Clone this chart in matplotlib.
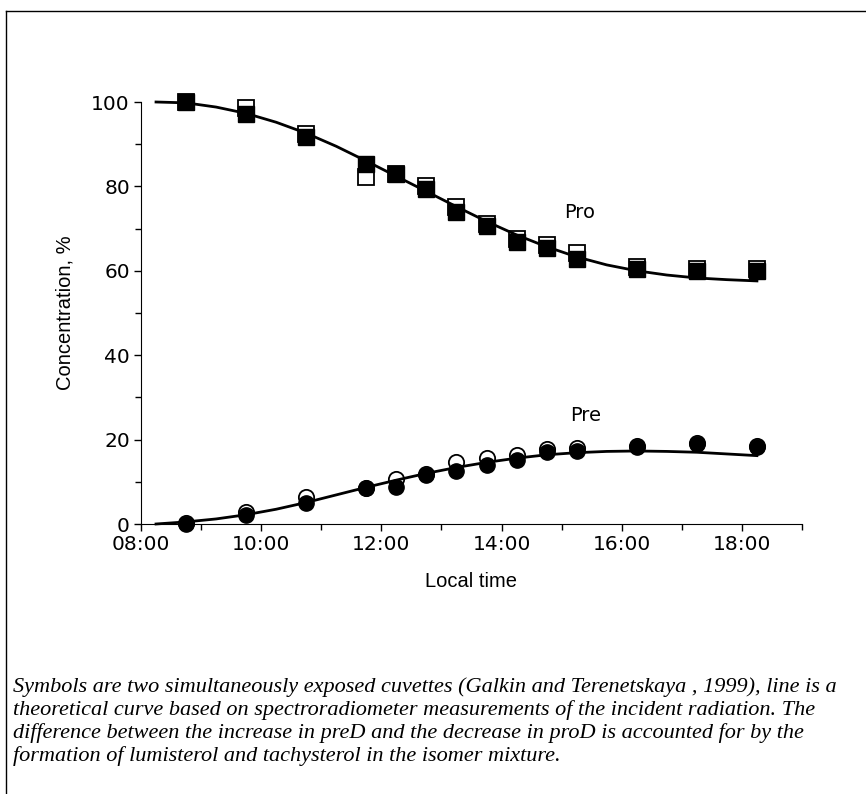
import numpy as np
import matplotlib
matplotlib.use('Agg')
import matplotlib.pyplot as plt
from matplotlib.lines import Line2D
from matplotlib.ticker import MultipleLocator, FuncFormatter

# measurement times (decimal hours)
times = [8.75, 9.75, 10.75, 11.75, 12.25, 12.75, 13.25, 13.75, 14.25, 14.75, 15.25, 16.25, 17.25, 18.25]

# provitamin D, two cuvettes
pro_open = [100.0, 98.6, 92.5, 82.2, 83.0, 80.0, 75.1, 71.0, 67.5, 66.2, 64.1, 61.0, 60.5, 60.5]
pro_filled = [100.0, 97.2, 91.7, 85.2, 82.9, 79.5, 73.9, 70.5, 66.8, 65.3, 62.9, 60.4, 60.0, 60.0]

# previtamin D, two cuvettes
pre_open = [0.2, 2.8, 6.4, 8.6, 10.7, 11.8, 14.7, 15.7, 16.3, 17.8, 18.0, 18.5, 19.3, 18.5]
pre_filled = [0.0, 2.1, 5.0, 8.5, 8.8, 11.6, 12.6, 14.0, 15.2, 17.1, 17.3, 18.3, 19.0, 18.3]

# theoretical curves, read every half hour
curve_t = [8.25, 8.75, 9.25, 9.75, 10.25, 10.75, 11.25, 11.75, 12.25, 12.75, 13.25,
           13.75, 14.25, 14.75, 15.25, 15.75, 16.25, 16.75, 17.25, 17.75, 18.25]
pro_curve = [100.0, 99.8, 98.8, 97.3, 95.2, 92.6, 89.5, 86.0, 82.4, 78.8, 75.2,
             71.7, 68.5, 65.7, 63.3, 61.4, 60.0, 59.0, 58.3, 57.9, 57.6]
pre_curve = [0.0, 0.5, 1.2, 2.2, 3.5, 5.1, 6.9, 8.7, 10.4, 12.0, 13.4,
             14.6, 15.6, 16.4, 16.9, 17.2, 17.3, 17.2, 17.0, 16.6, 16.2]

caption = ("Symbols are two simultaneously exposed cuvettes (Galkin and Terenetskaya , 1999), line is a\n"
           "theoretical curve based on spectroradiometer measurements of the incident radiation. The\n"
           "difference between the increase in preD and the decrease in proD is accounted for by the\n"
           "formation of lumisterol and tachysterol in the isomer mixture.")

plt.rcParams['font.family'] = 'DejaVu Sans'

fig = plt.figure(figsize=(8.66, 7.94), dpi=100)
ax = fig.add_axes([141 / 866, 1 - 524 / 794, (802 - 141) / 866, (524 - 102) / 794])

ms = 11
# open symbols (first cuvette) drawn behind
ax.plot(times, pro_open, 's', ms=ms, mfc='white', mec='black', mew=1.3, zorder=2)
ax.plot(times, pre_open, 'o', ms=ms, mfc='white', mec='black', mew=1.3, zorder=2)
# curves
ax.plot(curve_t, pro_curve, '-', color='black', lw=2, zorder=3)
ax.plot(curve_t, pre_curve, '-', color='black', lw=2, zorder=3)
# filled symbols (second cuvette)
ax.plot(times, pro_filled, 's', ms=ms, mfc='black', mec='black', zorder=4)
ax.plot(times, pre_filled, 'o', ms=ms, mfc='black', mec='black', zorder=4)

ax.text(15.3, 73.7, 'Pro', fontsize=14, ha='center', va='center')
ax.text(15.4, 25.6, 'Pre', fontsize=14, ha='center', va='center')

ax.set_xlim(8, 19)
ax.set_ylim(0, 100)
ax.xaxis.set_major_locator(MultipleLocator(2))
ax.xaxis.set_minor_locator(MultipleLocator(1))
ax.yaxis.set_major_locator(MultipleLocator(20))
ax.yaxis.set_minor_locator(MultipleLocator(10))
ax.xaxis.set_major_formatter(FuncFormatter(lambda v, p: '%02d:00' % int(v)))
ax.tick_params(which='major', length=5, width=1, labelsize=14.5, direction='out')
ax.tick_params(axis='x', which='major', pad=3)
ax.tick_params(axis='y', which='major', pad=3)
ax.tick_params(which='minor', length=4, width=1, direction='out')
ax.spines['top'].set_visible(False)
ax.spines['right'].set_visible(False)
for line in ax.lines:
    line.set_clip_on(False)

ax.set_xlabel('Local time', fontsize=14.5, family='Liberation Sans', labelpad=13)
ax.set_ylabel('Concentration, %', fontsize=14.5, family='Liberation Sans', labelpad=12)

# frame lines of the original figure box
fig.add_artist(Line2D([6 / 866, 1], [1 - 11 / 794, 1 - 11 / 794], color='black', lw=1))
fig.add_artist(Line2D([6 / 866, 6 / 866], [0, 1 - 11 / 794], color='black', lw=1))

fig.text(13 / 866, 1 - 677 / 794, caption, fontsize=16, family='Liberation Serif',
         style='italic', ha='left', va='top', linespacing=1.22)

fig.savefig('out.png', dpi=100)
